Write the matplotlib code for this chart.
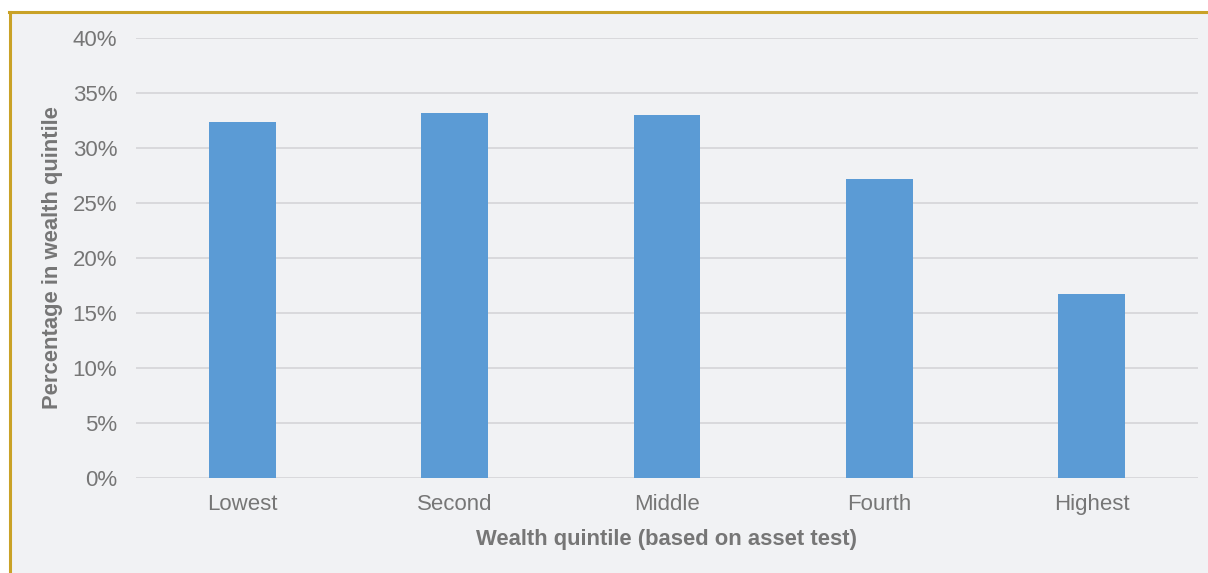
import matplotlib.pyplot as plt
from matplotlib.lines import Line2D
from matplotlib.patches import Rectangle
from matplotlib.ticker import PercentFormatter

# data
quintiles = ['Lowest', 'Second', 'Middle', 'Fourth', 'Highest']
share = [32.4, 33.2, 33.0, 27.2, 16.7]

W, H = 1208, 573
bg = '#f1f2f4'
txt = '#767676'
gold = '#c9a227'

plt.rcParams['font.family'] = ['Liberation Sans', 'DejaVu Sans']

fig = plt.figure(figsize=(W / 100, H / 100), dpi=100)
fig.patch.set_facecolor('white')

# grey panel with a gold frame on top and left
fig.add_artist(Rectangle((10 / W, 0), 1 - 10 / W, 1 - 12 / H, transform=fig.transFigure,
                         facecolor=bg, edgecolor='none', zorder=0))
fig.add_artist(Line2D([9 / W, 1], [1 - 12 / H, 1 - 12 / H], transform=fig.transFigure,
                      color=gold, lw=2.2, zorder=1))
fig.add_artist(Line2D([10 / W, 10 / W], [0, 1 - 12 / H], transform=fig.transFigure,
                      color=gold, lw=2.2, zorder=1))

ax = fig.add_axes([136 / W, 1 - 478 / H, (1198 - 136) / W, (478 - 38) / H])
ax.set_facecolor('none')

x = range(len(quintiles))
ax.bar(x, share, width=0.315, color='#5b9bd5', zorder=3)

ax.set_xlim(-0.5, len(quintiles) - 0.5)
ax.set_ylim(0, 40)
ax.set_yticks(range(0, 41, 5))
ax.yaxis.set_major_formatter(PercentFormatter(decimals=0))
ax.set_xticks(list(x))
ax.set_xticklabels(quintiles)

ax.grid(axis='y', color='#d9d9dc', lw=1.4, zorder=0)
for s in ax.spines.values():
    s.set_visible(False)
ax.tick_params(axis='both', length=0, labelsize=16, colors=txt)
ax.tick_params(axis='y', pad=13.5)
ax.tick_params(axis='x', pad=11.5)

ax.set_xlabel('Wealth quintile (based on asset test)', fontsize=15.8, fontweight='bold',
              color=txt, labelpad=10)
ax.set_ylabel('Percentage in wealth quintile', fontsize=15.8, fontweight='bold',
              color=txt, labelpad=7)

fig.savefig('out.png', dpi=100)
